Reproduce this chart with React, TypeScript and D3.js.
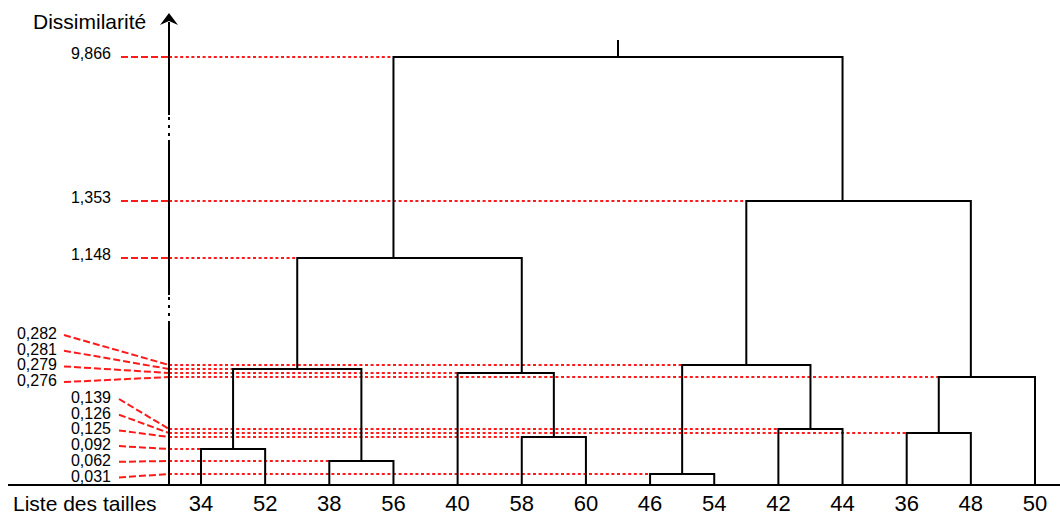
import React, { useEffect, useRef } from "react";
import * as d3 from "d3";

// leaf order along the bottom
const leaves = ["34", "52", "38", "56", "40", "58", "60", "46", "54", "42", "44", "36", "48", "50"];

// linkage, scipy style: ids 0..13 are leaves, merge k creates id 14 + k
const mergeLeft = [7, 2, 0, 5, 11, 9, 18, 4, 16, 14, 22, 23, 24];
const mergeRight = [8, 3, 1, 6, 12, 10, 13, 17, 15, 19, 21, 20, 25];
const mergeHeight = [0.031, 0.062, 0.092, 0.125, 0.126, 0.139, 0.276, 0.279, 0.281, 0.282, 1.148, 1.353, 9.866];

// how the height labels are grouped on the left
const upperLabels = [9.866, 1.353, 1.148];
const stackA = [0.282, 0.281, 0.279, 0.276];
const stackB = [0.139, 0.126, 0.125, 0.092, 0.062, 0.031];

const FONT = "'Liberation Sans', Arial, sans-serif";
const RED = "#ff1a1a";

export default function App() {
  const ref = useRef<SVGSVGElement>(null);

  useEffect(() => {
    const svg = d3.select(ref.current);
    svg.selectAll("*").remove();

    const axisX = 169;
    const base = 485;

    // the axis is broken, so the scale is piecewise
    const y = d3.scaleLinear()
      .domain([0, ...mergeHeight])
      .range([base, 474, 461, 449, 437, 433, 429, 377, 373, 369, 365, 258, 201, 57]);

    const x = d3.scalePoint<string>().domain(leaves).range([201, 1035]);

    // build the tree from the linkage
    const nodes: any[] = leaves.map(name => ({ name, h: 0 }));
    mergeHeight.forEach((h, k) => {
      nodes.push({ h, children: [nodes[mergeLeft[k]], nodes[mergeRight[k]]] });
    });
    const root = d3.hierarchy(nodes[nodes.length - 1]);
    // node sits at the mean position of its leaves
    const nx = (d: any) => d3.mean(d.leaves(), (l: any) => x(l.data.name)) as number;

    const fmt = d3.formatLocale({ decimal: ",", thousands: " ", grouping: [3], currency: ["", ""] }).format(".3f");

    // red dotted guides from the axis to each merge
    const inner = root.descendants().filter(d => d.children);
    svg.append("g")
      .selectAll("line")
      .data(inner)
      .join("line")
      .attr("x1", axisX)
      .attr("x2", d => nx(d.children![0]))
      .attr("y1", d => y(d.data.h))
      .attr("y2", d => y(d.data.h))
      .attr("stroke", RED)
      .attr("stroke-width", 2)
      .attr("stroke-dasharray", "3 2.6");

    // labels + dashed leaders
    const labels: { h: number; tx: number; ty: number; lx: number; ly: number }[] = [];
    upperLabels.forEach(h => labels.push({ h, tx: 111, ty: y(h) + 2, lx: 121, ly: y(h) }));
    stackA.forEach((h, i) => {
      const ty = 339 + i * 15.7;
      labels.push({ h, tx: 57, ty, lx: 64, ly: ty - 4 });
    });
    stackB.forEach((h, i) => {
      const ty = 403 + i * 15.7;
      labels.push({ h, tx: 111, ty, lx: 119, ly: ty - 4 });
    });

    const lab = svg.append("g");
    lab.selectAll("line")
      .data(labels)
      .join("line")
      .attr("x1", d => d.lx)
      .attr("y1", d => d.ly)
      .attr("x2", axisX)
      .attr("y2", d => y(d.h))
      .attr("stroke", RED)
      .attr("stroke-width", 2)
      .attr("stroke-dasharray", "7 3");
    lab.selectAll("text")
      .data(labels)
      .join("text")
      .attr("x", d => d.tx)
      .attr("y", d => d.ty)
      .attr("text-anchor", "end")
      .attr("font-family", FONT)
      .attr("font-size", 16)
      .text(d => fmt(d.h));

    // vertical axis with its breaks
    const ax = svg.append("g").attr("stroke", "#000").attr("stroke-width", 2);
    [[22, 115], [140, 295], [322, base]].forEach(([a, b]) => {
      ax.append("line").attr("x1", axisX).attr("x2", axisX).attr("y1", a).attr("y2", b);
    });
    [[117, 138], [297, 322]].forEach(([a, b]) => {
      ax.append("line").attr("x1", axisX).attr("x2", axisX).attr("y1", a).attr("y2", b)
        .attr("stroke-dasharray", "3 5");
    });
    svg.append("path")
      .attr("d", `M${axisX},13 L${axisX + 9},25 L${axisX},21 L${axisX - 9},25 Z`)
      .attr("fill", "#000");

    // baseline
    svg.append("line")
      .attr("x1", 8).attr("x2", 1060)
      .attr("y1", base).attr("y2", base)
      .attr("stroke", "#000").attr("stroke-width", 2);

    // dendrogram elbows
    const g = svg.append("g").attr("fill", "none").attr("stroke", "#000").attr("stroke-width", 2);
    inner.forEach(d => {
      const yh = y(d.data.h);
      const [a, b] = d.children!;
      const xa = nx(a), xb = nx(b);
      g.append("path").attr("d", `M${xa},${y(a.data.h)} V${yh} H${xb} V${y(b.data.h)}`);
    });
    g.append("line")
      .attr("x1", nx(root)).attr("x2", nx(root))
      .attr("y1", y(root.data.h)).attr("y2", y(root.data.h) - 17);

    // texts
    svg.append("text")
      .attr("x", 33).attr("y", 29)
      .attr("font-family", FONT).attr("font-size", 21)
      .text("Dissimilarité");
    svg.append("text")
      .attr("x", 13).attr("y", 511)
      .attr("font-family", FONT).attr("font-size", 21)
      .text("Liste des tailles");
    svg.append("g")
      .selectAll("text")
      .data(leaves)
      .join("text")
      .attr("x", d => x(d)!)
      .attr("y", 511)
      .attr("text-anchor", "middle")
      .attr("font-family", FONT)
      .attr("font-size", 22)
      .text(d => d);
  }, []);

  return (
    <svg ref={ref} width={1060} height={516}
      style={{ position: "absolute", left: 0, top: 0, background: "#fff" }} />
  );
}
